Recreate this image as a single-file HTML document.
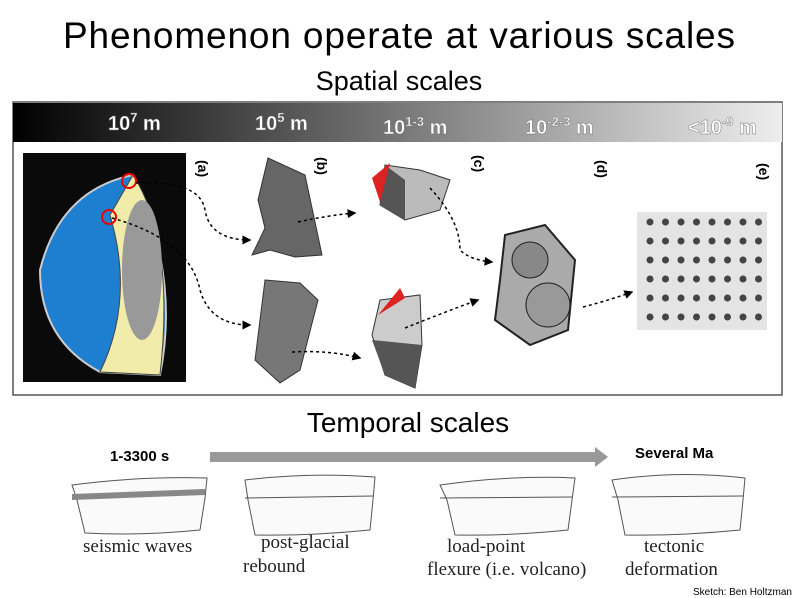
<!DOCTYPE html>
<html><head><meta charset="utf-8"><style>
html,body{margin:0;padding:0;background:#fff;}
svg{display:block;font-family:"Liberation Sans",sans-serif;}
</style></head><body>
<svg width="797" height="598" viewBox="0 0 797 598">
<defs>
<linearGradient id="g" x1="0" x2="1"><stop offset="0" stop-color="#000"/><stop offset="0.5" stop-color="#777"/><stop offset="1" stop-color="#eee"/></linearGradient>
<marker id="ah" markerWidth="6" markerHeight="6" refX="5" refY="3" orient="auto"><path d="M0,0L6,3L0,6z" fill="#000"/></marker>
</defs>
<text x="399" y="48" font-size="37" text-anchor="middle" textLength="672">Phenomenon operate at various scales</text>
<text x="399" y="90" font-size="27" text-anchor="middle">Spatial scales</text>
<g>
<rect x="13" y="102" width="769" height="293" fill="#fff" stroke="#555" stroke-width="1.5"/>
<rect x="13" y="103" width="769" height="39" fill="url(#g)"/>
<g fill="#fff" font-weight="bold" font-size="20" stroke="#666" stroke-width="0.4">
<text x="108" y="130">10<tspan dy="-8" font-size="13">7</tspan><tspan dy="8"> m</tspan></text>
<text x="255" y="130">10<tspan dy="-8" font-size="13">5</tspan><tspan dy="8"> m</tspan></text>
<text x="383" y="134">10<tspan dy="-8" font-size="13">1-3</tspan><tspan dy="8"> m</tspan></text>
<text x="525" y="134">10<tspan dy="-8" font-size="13">-2-3</tspan><tspan dy="8"> m</tspan></text>
<text x="688" y="134">&lt;10<tspan dy="-8" font-size="13">-9</tspan><tspan dy="8"> m</tspan></text>
</g>
<g>
<rect x="23" y="153" width="163" height="229" fill="#0a0a0a"/>
<path d="M133,175 Q60,190 40,270 Q40,340 100,372 L160,375 Q180,275 133,175z" fill="#1e7fd0" stroke="#ccc" stroke-width="2"/>
<path d="M133,175 Q175,240 160,375 L100,372 Q135,300 110,215z" fill="#f2ecaa" stroke="#444"/>
<ellipse cx="142" cy="270" rx="20" ry="70" fill="#999"/>
<circle cx="129" cy="181" r="7" fill="none" stroke="#e00" stroke-width="2"/>
<circle cx="109" cy="217" r="7" fill="none" stroke="#e00" stroke-width="2"/>
</g>
<g font-weight="bold" font-size="14">
<text transform="translate(198,160) rotate(90)">(a)</text>
<text transform="translate(317,157) rotate(90)">(b)</text>
<text transform="translate(474,155) rotate(90)">(c)</text>
<text transform="translate(597,160) rotate(90)">(d)</text>
<text transform="translate(759,163) rotate(90)">(e)</text>
</g>
<g>
<path d="M268,158 L305,175 L322,255 L295,257 L270,250 L252,255 L265,228 L258,200z" fill="#666" stroke="#333"/>
<path d="M265,280 L300,283 L318,300 L300,370 L280,383 L255,360z" fill="#777" stroke="#333"/>
<path d="M385,165 L420,170 L450,180 L440,210 L405,220 L380,205z" fill="#bbb" stroke="#333"/>
<path d="M385,165 L405,180 L405,220 L380,205z" fill="#555"/>
<path d="M372,178 L390,163 L380,202z" fill="#d22"/>
<path d="M380,300 L420,295 L422,345 L415,388 L385,375 L372,335z" fill="#ccc" stroke="#333"/>
<path d="M372,340 L422,345 L415,388 L385,375z" fill="#555"/>
<path d="M378,315 L400,288 L405,298z" fill="#d22"/>
</g>
<g>
<path d="M505,235 L545,225 L575,260 L568,330 L530,345 L495,320 L500,280z" fill="#aaa" stroke="#222" stroke-width="2"/>
<circle cx="530" cy="260" r="18" fill="#888" stroke="#222"/>
<circle cx="548" cy="305" r="22" fill="#999" stroke="#222"/>
</g>
<g>
<rect x="637" y="212" width="130" height="118" fill="#e4e4e4"/>
<g id="dots" fill="#444"></g>
</g>
<g fill="none" stroke="#000" stroke-width="1.5" stroke-dasharray="3,3" marker-end="url(#ah)">
<path d="M136,183 Q200,180 205,210 Q210,240 250,240"/>
<path d="M112,218 Q190,240 200,290 Q210,325 250,325"/>
<path d="M298,222 Q330,215 355,213"/>
<path d="M292,352 Q330,350 360,358"/>
<path d="M430,188 Q460,220 460,250 Q470,260 492,262"/>
<path d="M405,328 Q450,310 478,300"/>
<path d="M583,307 Q610,300 632,292"/>
</g>
</g>
<text x="408" y="432" font-size="28" text-anchor="middle">Temporal scales</text>
<text x="110" y="461" font-size="15" font-weight="bold">1-3300 s</text>
<text x="635" y="458" font-size="15" font-weight="bold">Several Ma</text>
<path d="M210,452 L595,452 L595,447 L608,457 L595,467 L595,462 L210,462z" fill="#999"/>
<g fill="#fafafa" stroke="#555">
<path d="M72,485 Q140,476 207,478 L205,498 L200,530 Q140,536 85,533 L77,500z"/>
<path d="M72,494 L205,489 L205,495 L72,500z" fill="#888" stroke="none"/>
<path d="M245,480 Q310,472 375,477 L373,500 L370,530 Q310,536 255,535 L248,500z"/>
<line x1="245" y1="498" x2="373" y2="496"/>
<path d="M440,485 Q510,475 575,478 L572,500 L568,530 Q510,536 455,535 L447,500z"/>
<line x1="440" y1="498" x2="572" y2="497"/>
<path d="M612,480 Q680,470 745,478 L743,500 L740,530 Q680,536 625,535 L618,500z"/>
<line x1="612" y1="497" x2="743" y2="496"/>
</g>
<g font-family="Liberation Serif, serif" font-size="19" fill="#222">
<text x="83" y="552">seismic waves</text>
<text x="261" y="548">post-glacial</text>
<text x="243" y="572">rebound</text>
<text x="447" y="552">load-point</text>
<text x="427" y="575">flexure (i.e. volcano)</text>
<text x="644" y="552">tectonic</text>
<text x="625" y="575">deformation</text>
</g>
<text x="693" y="595" font-size="10">Sketch: Ben Holtzman</text>
<script>
var d=document.getElementById('dots');
for(var i=0;i<8;i++)for(var j=0;j<6;j++){
var c=document.createElementNS('http://www.w3.org/2000/svg','circle');


c.setAttribute('cx',650+i*15.5);c.setAttribute('cy',222+j*19);c.setAttribute('r',3.5);d.appendChild(c);}
</script>
</svg>
</body></html>
